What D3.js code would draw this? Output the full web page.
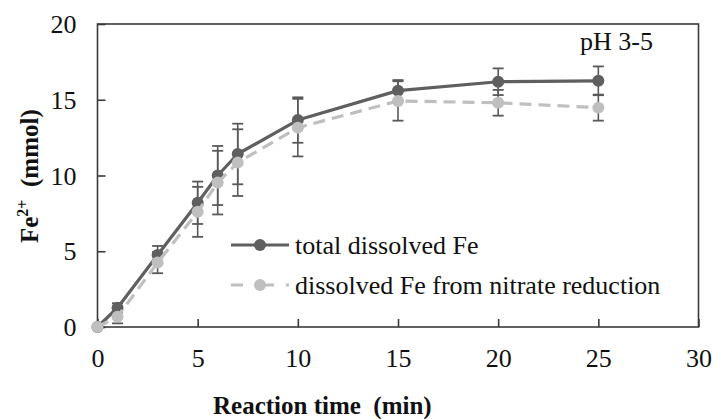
<!DOCTYPE html>
<html><head><meta charset="utf-8">
<script src="https://cdn.jsdelivr.net/npm/d3@7"></script>
<style>body{margin:0;background:#fff}svg{display:block}</style>
</head><body>
<script>
const times = [0, 1, 3, 5, 6, 7, 10, 15, 20, 25];
const totalFe = [0, 1.27, 4.75, 8.2, 10.0, 11.42, 13.66, 15.6, 16.19, 16.25];
const totalErr = [0, 0.3, 0.6, 1.4, 1.95, 2.0, 1.5, 0.7, 0.88, 0.95];
const nitrateFe = [0, 0.68, 4.25, 7.6, 9.53, 10.85, 13.16, 14.92, 14.8, 14.48];
const nitrateErr = [0, 0.44, 0.7, 1.65, 2.1, 2.2, 1.9, 1.3, 0.85, 0.86];
const xTicks = [0, 5, 10, 15, 20, 25, 30];
const yTicks = [0, 5, 10, 15, 20];
const seriesNames = ["total dissolved Fe", "dissolved Fe from nitrate reduction"];

const W = 714, H = 419;
const svg = d3.select("body").append("svg").attr("width", W).attr("height", H);
svg.append("rect").attr("width", W).attr("height", H).attr("fill", "#fff");
const x = d3.scaleLinear([0, 30], [97.5, 698.5]);
const y = d3.scaleLinear([0, 20], [327, 24]);
const font = "Liberation Serif, Times New Roman, serif";
const frameColor = "#3a3a3a";

// axes
const xAxis = d3.axisBottom(x).tickValues(xTicks).tickSize(-8).tickPadding(20).tickFormat(d3.format("d"));
const gx = svg.append("g").attr("transform", `translate(0,${y(0)})`).call(xAxis);
const yAxis = d3.axisLeft(y).tickValues(yTicks).tickSize(-8).tickPadding(20).tickFormat(d3.format("d"));
const gy = svg.append("g").attr("transform", `translate(${x(0)},0)`).call(yAxis);
[gx, gy].forEach(g => {
  g.attr("font-family", font).attr("font-size", 26);
  g.select(".domain").remove();
  g.selectAll(".tick line").attr("stroke", frameColor).attr("stroke-width", 1.6);
  g.selectAll(".tick text").style("font-family", font).style("font-size", "26px").attr("fill", "#111");
});
gx.selectAll(".tick text").attr("dy", "0.71em").attr("y", 22);
gy.selectAll(".tick text").attr("x", -21).attr("dy", "0.33em");

// frame
svg.append("rect").attr("x", x(0)).attr("y", y(20)).attr("width", x(30) - x(0)).attr("height", y(0) - y(20))
  .attr("fill", "none").attr("stroke", frameColor).attr("stroke-width", 1.6);

const darkC = "#5f5f5f", lightC = "#bfbfbf", errC = "#595959";
const series = [
  {vals: totalFe, err: totalErr, color: darkC, dash: null},
  {vals: nitrateFe, err: nitrateErr, color: lightC, dash: "12,7"}
];

// error bars
series.forEach(s => {
  const g = svg.append("g");
  times.forEach((t, i) => {
    if (!s.err[i]) return;
    const cx = x(t), y1 = y(s.vals[i] + s.err[i]), y2 = y(s.vals[i] - s.err[i]);
    g.append("line").attr("x1", cx).attr("x2", cx).attr("y1", y1).attr("y2", y2).attr("stroke", errC).attr("stroke-width", 1.6);
    [y1, y2].forEach(yy => g.append("line").attr("x1", cx - 5.5).attr("x2", cx + 5.5).attr("y1", yy).attr("y2", yy).attr("stroke", errC).attr("stroke-width", 1.8));
  });
});

// lines + markers
const line = d3.line().curve(d3.curveLinear).x((d, i) => x(times[i])).y(d => y(d));
series.forEach(s => {
  svg.append("path").attr("d", line(s.vals)).attr("fill", "none").attr("stroke", s.color)
    .attr("stroke-width", 3.2).attr("stroke-linejoin", "round").attr("stroke-dasharray", s.dash);
  svg.append("g").selectAll("circle").data(s.vals).join("circle")
    .attr("cx", (d, i) => x(times[i])).attr("cy", d => y(d)).attr("r", 6).attr("fill", s.color);
});

// legend
const legY = [245, 285];
series.forEach((s, i) => {
  const g = svg.append("g");
  g.append("line").attr("x1", 231).attr("x2", 289).attr("y1", legY[i]).attr("y2", legY[i])
    .attr("stroke", s.color).attr("stroke-width", 3.2).attr("stroke-dasharray", s.dash ? "12,19,0,0,12" : null);
  g.append("circle").attr("cx", 260).attr("cy", legY[i]).attr("r", 6).attr("fill", s.color);
  g.append("text").attr("x", 295).attr("y", legY[i]).attr("dy", "0.33em").style("font-family", font)
    .style("font-size", "26px").attr("fill", "#111").text(seriesNames[i]);
});

// pH label
svg.append("text").attr("x", 580).attr("y", 50).style("font-family", font).style("font-size", "26px").attr("fill", "#111").text("pH 3-5");

// x title
svg.append("text").attr("x", 213).attr("y", 414).style("font-family", font).style("font-size", "25px")
  .attr("font-weight", "bold").attr("fill", "#111").style("white-space", "pre").text("Reaction time  (min)");

// y title
const yt = svg.append("text").attr("transform", "translate(38,243) rotate(-90)").style("font-family", font)
  .style("font-size", "25px").attr("font-weight", "bold").attr("fill", "#111").style("white-space", "pre");
yt.append("tspan").text("Fe");
yt.append("tspan").style("font-size", "16px").attr("dy", -10).text("2+");
yt.append("tspan").attr("dy", 10).text("  (mmol)");
</script>
</body></html>
